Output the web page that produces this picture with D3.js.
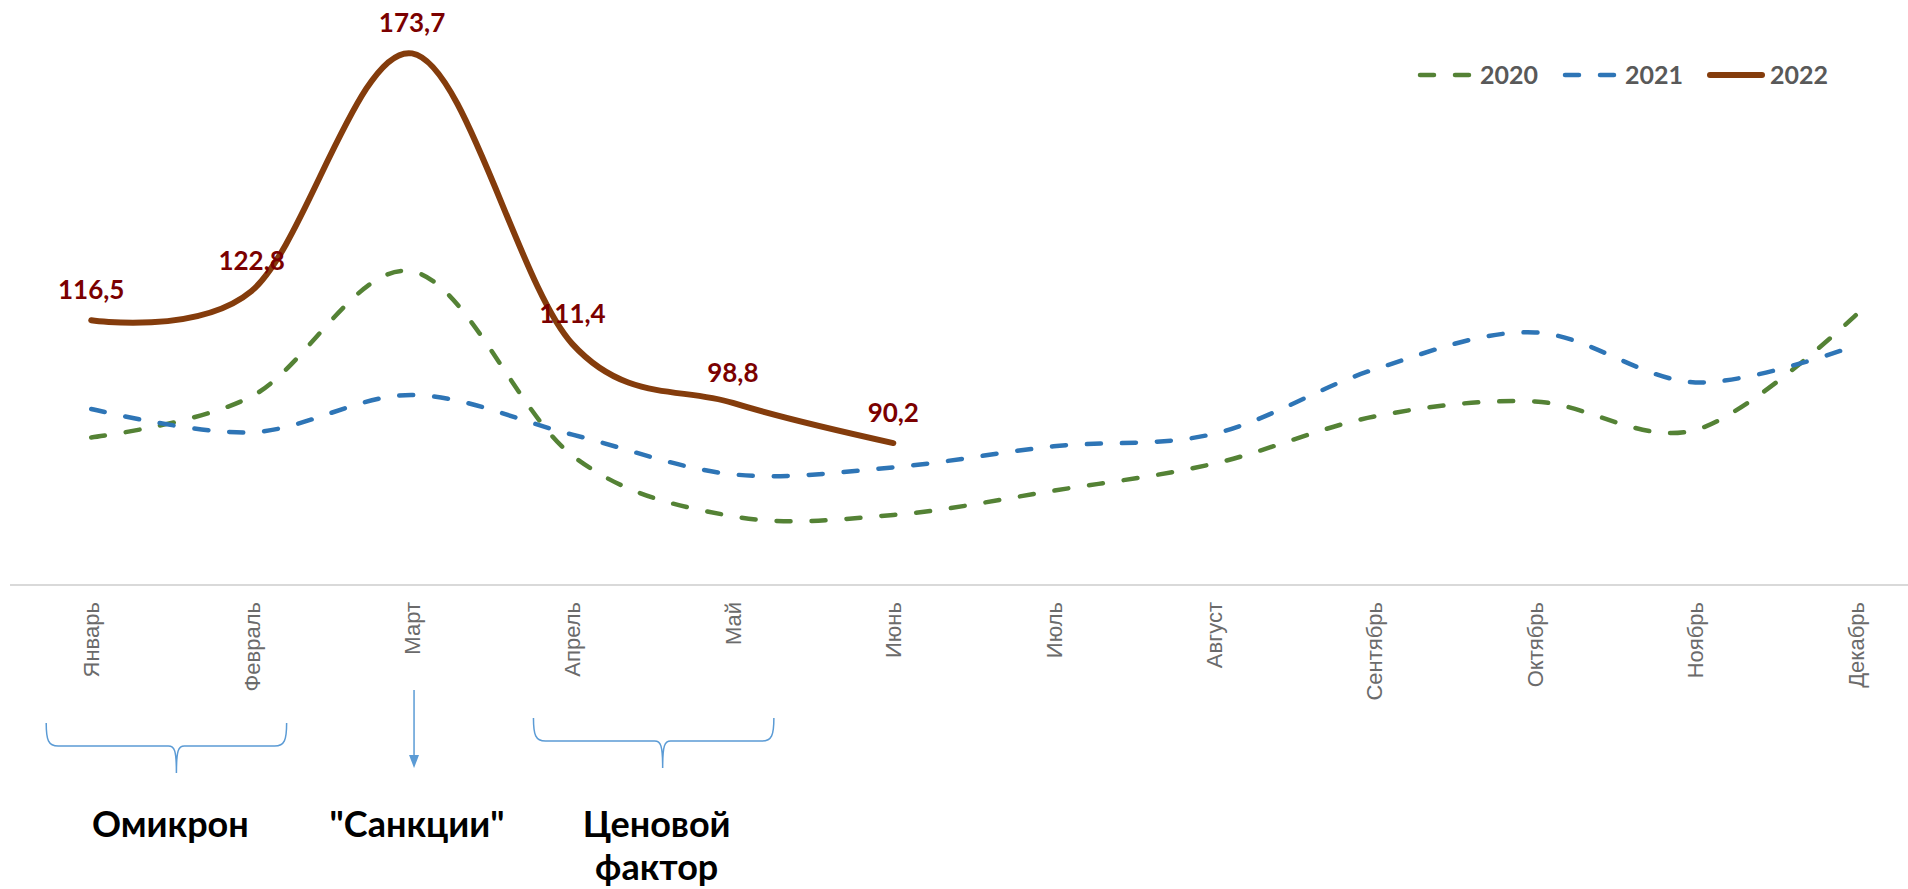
<!DOCTYPE html>
<html>
<head>
<meta charset="utf-8">
<script src="https://cdn.jsdelivr.net/npm/d3@7"></script>
<style>
  html, body { margin: 0; padding: 0; background: #fff; }
  svg { display: block; }
</style>
</head>
<body>
<div id="container"></div>
<script>
/* ---------------- DATA ---------------- */
const months = ["Январь", "Февраль", "Март", "Апрель", "Май", "Июнь",
  "Июль", "Август", "Сентябрь", "Октябрь", "Ноябрь", "Декабрь"];

const years = ["2020", "2021", "2022"];

const values2020 = [91.4, 100.2, 127.0, 87.5, 74.5, 74.8, 80.0, 85.8, 95.9, 99.1, 93.0, 117.6];
const values2021 = [97.5, 92.5, 100.5, 92.0, 83.5, 85.0, 89.5, 92.2, 106.0, 113.9, 103.2, 111.1];
const values2022 = [116.5, 122.8, 173.7, 111.4, 98.8, 90.2];

const yDomain = [60, 180];

// notes under the axis: months spanned, text lines
const noteBraces = [
  { from: "Январь", to: "Февраль", lines: ["Омикрон"] },
  { from: "Апрель", to: "Май", lines: ["Ценовой", "фактор"] }
];
const noteArrows = [
  { at: "Март", lines: ["\"Санкции\""] }
];

/* ---------------- SETUP ---------------- */
const W = 1908, H = 889;
const fmt = v => d3.format(".1f")(v).replace(".", ",");

const svg = d3.select("#container").append("svg")
  .attr("width", W)
  .attr("height", H);

const x = d3.scaleBand()
  .domain(months)
  .range([11, 1936]);

const cx = m => x(m) + x.bandwidth() / 2;

const y = d3.scaleLinear()
  .domain(yDomain)
  .range([584, 24]);

const series = [
  { name: years[0], values: values2020, color: "#548235", width: 4.5, dash: "14,21" },
  { name: years[1], values: values2021, color: "#2e75b6", width: 4.5, dash: "14,21" },
  { name: years[2], values: values2022, color: "#843c0c", width: 6, dash: null }
];

/* ---------------- AXIS ---------------- */
const axis = svg.append("g")
  .attr("transform", "translate(0,585)")
  .call(d3.axisBottom(x).tickSize(0).tickSizeOuter(0));

axis.select(".domain")
  .attr("stroke", "#d9d9d9")
  .attr("stroke-width", 2)
  .attr("d", `M10,0H${W}`);

axis.selectAll(".tick text")
  .attr("transform", "translate(0,17) rotate(-90)")
  .attr("text-anchor", "end")
  .attr("x", 0)
  .attr("y", 0)
  .attr("dy", "0.36em")
  .attr("fill", "#6b6b6b")
  .style("font-family", "'Liberation Sans', Arial, sans-serif")
  .style("font-size", "22px");

/* ---------------- LINES ---------------- */
const line = d3.line()
  .x((d, i) => cx(months[i]))
  .y(d => y(d))
  .curve(d3.curveCardinal.tension(0));

svg.append("g").selectAll("path")
  .data(series)
  .join("path")
  .attr("d", s => line(s.values))
  .attr("fill", "none")
  .attr("stroke", s => s.color)
  .attr("stroke-width", s => s.width)
  .attr("stroke-linecap", "round")
  .attr("stroke-dasharray", s => s.dash);

/* ---------------- DATA LABELS ---------------- */
svg.append("g").selectAll("text")
  .data(values2022)
  .join("text")
  .attr("x", (d, i) => cx(months[i]))
  .attr("y", d => y(d) - 21)
  .attr("text-anchor", "middle")
  .attr("fill", "#7b0000")
  .style("font-family", "Lato, 'Noto Sans', sans-serif")
  .style("font-weight", "bold")
  .style("font-size", "26px")
  .text(fmt);

/* ---------------- LEGEND ---------------- */
const legend = svg.append("g")
  .attr("transform", "translate(1420,75)");

const item = legend.selectAll("g")
  .data(series)
  .join("g")
  .attr("transform", (d, i) => `translate(${i * 145},0)`);

item.append("line")
  .attr("x1", 0)
  .attr("x2", 52)
  .attr("stroke", s => s.color)
  .attr("stroke-width", s => s.width)
  .attr("stroke-linecap", "round")
  .attr("stroke-dasharray", s => s.dash);

item.append("text")
  .attr("x", 60)
  .attr("y", 9)
  .attr("fill", "#595959")
  .style("font-family", "Lato, 'Noto Sans', sans-serif")
  .style("font-weight", "bold")
  .style("font-size", "25px")
  .text(s => s.name);

/* ---------------- NOTES ---------------- */
const notes = svg.append("g");
const noteColor = "#5b9bd5";

function noteText(xc, lines) {
  notes.append("text")
    .attr("x", xc)
    .attr("y", 837)
    .attr("text-anchor", "middle")
    .attr("fill", "#000")
    .style("font-family", "Lato, 'Noto Sans', sans-serif")
    .style("font-weight", "bold")
    .style("font-size", "36px")
    .selectAll("tspan")
    .data(lines)
    .join("tspan")
    .attr("x", xc)
    .attr("dy", (d, i) => i ? 43 : 0)
    .text(d => d);
}

noteBraces.forEach((b, k) => {
  const l = cx(b.from) - (k ? 39 : 45);
  const r = cx(b.to) + (k ? 41 : 35);
  const m = (l + r) / 2 + (k ? 9 : 10);
  const top = k ? 718 : 723, mid = top + 23, tip = top + 50;
  notes.append("path")
    .attr("d", `M${l},${top} C${l},${mid - 6} ${l + 2},${mid} ${l + 12},${mid} H${m - 8}` +
      ` C${m - 2},${mid} ${m},${mid + 4} ${m},${tip}` +
      ` M${m},${tip} C${m},${mid + 4} ${m + 2},${mid} ${m + 8},${mid} H${r - 12}` +
      ` C${r - 2},${mid} ${r},${mid - 6} ${r},${top}`)
    .attr("fill", "none")
    .attr("stroke", noteColor)
    .attr("stroke-width", 1.5);
  noteText(m - 6, b.lines);
});

noteArrows.forEach(a => {
  const ax = cx(a.at) + 2;
  notes.append("line")
    .attr("x1", ax).attr("x2", ax)
    .attr("y1", 690).attr("y2", 756)
    .attr("stroke", noteColor)
    .attr("stroke-width", 1.5);
  notes.append("path")
    .attr("d", `M${ax - 5},755 L${ax + 5},755 L${ax},768 Z`)
    .attr("fill", noteColor);
  noteText(ax + 3, a.lines);
});
</script>
</body>
</html>
